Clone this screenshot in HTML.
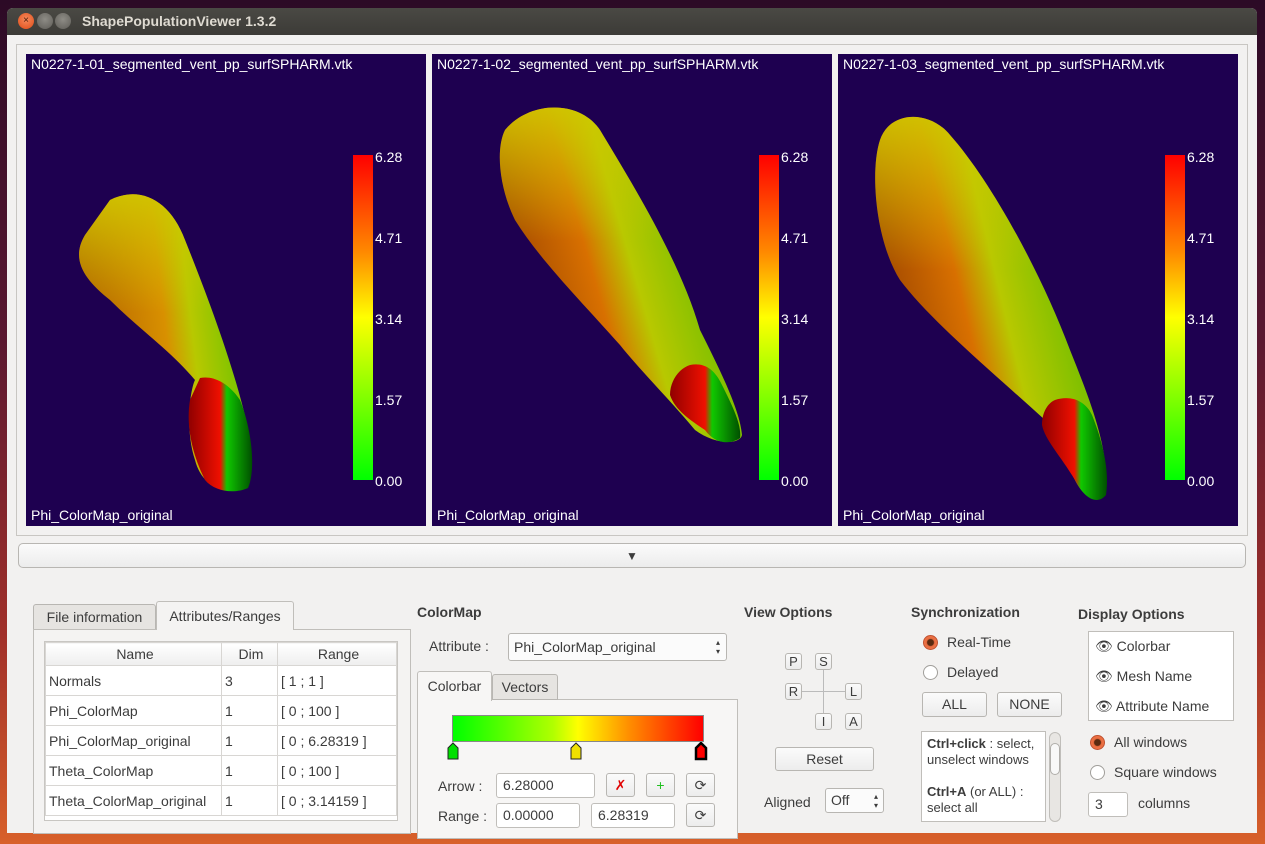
<!DOCTYPE html>
<html><head><meta charset="utf-8">
<style>
*{box-sizing:border-box;margin:0;padding:0}
body{width:1265px;height:844px;overflow:hidden;position:relative;font-family:"Liberation Sans","DejaVu Sans",sans-serif;font-size:14px;color:#3c3c3c;background:linear-gradient(180deg,#2c0a26 0%,#5a1830 40%,#a0302a 75%,#d8602a 100%)}
.a{position:absolute}
.win{left:7px;top:8px;width:1250px;height:825px;background:#f2f1f0;border-radius:6px 6px 0 0;overflow:hidden}
.title{left:0;top:0;width:1250px;height:27px;background:linear-gradient(#4a4944,#3c3b37)}
.title span{position:absolute;left:75px;top:5px;color:#dfdbd2;font-weight:bold;font-size:14px}
.btn{border-radius:50%;width:16px;height:16px;top:5px}
.panel{background:#1e0050;color:#fff;font-size:14px}
.cb{width:20px;height:325px;background:linear-gradient(#ff0000,#ff8a00 30%,#ffff00 50%,#80ff00 75%,#00ff00)}
.lbl{font-size:14px;color:#fff}
.tk{font-size:14px;color:#fff;line-height:81px;top:117px}
.qb{background:linear-gradient(#fbfbfb,#ececec);border:1px solid #b8b6b2;border-radius:3px;text-align:center;color:#3c3c3c}
.hd{font-weight:bold;font-size:14px;color:#3c3c3c}
table{border-collapse:collapse;font-size:14px}
td,th{border:1px solid #d8d6d3;height:30px;padding-left:3px;text-align:left;font-weight:normal}
th{height:23px;text-align:center;background:linear-gradient(#fff,#eee)}
.inp{background:#fff;border:1px solid #c0beba;border-radius:3px;padding:3px 6px}
.radio{width:15px;height:15px;border-radius:50%;border:1px solid #a09e9a;background:#fff}
.radio.on{background:radial-gradient(circle,#5a2a10 0 3px,#e86a3e 4px,#f08050 100%);border-color:#c05030}
</style></head><body>
<div class="a win">
 <div class="a title">
  <div class="a btn" style="left:11px;background:radial-gradient(circle at 50% 40%,#f58a5c,#df4a16);font-size:10px;color:#4a1a08;text-align:center;line-height:16px">×</div>
  <div class="a btn" style="left:30px;background:radial-gradient(circle at 50% 40%,#8e8c86,#5e5c57)"></div>
  <div class="a btn" style="left:48px;background:radial-gradient(circle at 50% 40%,#8e8c86,#5e5c57)"></div>
  <span>ShapePopulationViewer 1.3.2</span>
 </div>
 <div class="a" style="left:9px;top:36px;width:1232px;height:492px;border:1px solid #c8c6c2"></div>
</div>

<div class="a panel" style="left:26px;top:54px;width:400px;height:472px"></div>
<div class="a panel" style="left:432px;top:54px;width:400px;height:472px"></div>
<div class="a panel" style="left:838px;top:54px;width:400px;height:472px"></div>

<svg class="a" style="left:0;top:0" width="1265" height="844">
<defs>
 <linearGradient id="g1" x1="0" y1="0.3" x2="1" y2="0.1"><stop offset="0" stop-color="#b06000"/><stop offset="0.45" stop-color="#d89000"/><stop offset="0.6" stop-color="#b8c800"/><stop offset="1" stop-color="#50c000"/></linearGradient>
 <linearGradient id="g2" x1="0" y1="0.7" x2="1" y2="0.3"><stop offset="0" stop-color="#8a3800"/><stop offset="0.4" stop-color="#d87000"/><stop offset="0.55" stop-color="#b8c800"/><stop offset="1" stop-color="#48b800"/></linearGradient>
 <linearGradient id="top" x1="0" y1="0" x2="0" y2="1"><stop offset="0" stop-color="#d0c800" stop-opacity="0.9"/><stop offset="0.4" stop-color="#d0c800" stop-opacity="0"/></linearGradient>
 <linearGradient id="bl" x1="0" y1="0" x2="1" y2="0"><stop offset="0" stop-color="#900000"/><stop offset="0.5" stop-color="#f01000"/><stop offset="0.6" stop-color="#10c800"/><stop offset="1" stop-color="#005000"/></linearGradient>
</defs>
<path d="M110,200 C140,185 170,200 185,240 C205,290 232,360 246,420 C255,460 255,490 235,490 C215,492 200,480 195,460 C185,430 190,390 195,380 C170,350 140,330 110,300 C85,280 70,260 85,235 Z" fill="url(#g1)"/>
<path d="M110,200 C140,185 170,200 185,240 C205,290 232,360 246,420 C255,460 255,490 235,490 C215,492 200,480 195,460 C185,430 190,390 195,380 C170,350 140,330 110,300 C85,280 70,260 85,235 Z" fill="url(#top)"/>
<path d="M200,378 C215,375 230,385 240,400 C252,430 256,470 248,488 C235,494 215,492 205,480 C195,460 185,430 190,400 Z" fill="url(#bl)"/>
<path d="M505,130 C530,100 580,100 600,130 C630,180 680,260 700,330 C720,370 740,410 742,435 C740,445 715,445 695,430 C670,400 640,370 620,345 C580,300 540,260 515,220 C500,190 495,150 505,130 Z" fill="url(#g2)"/>
<path d="M505,130 C530,100 580,100 600,130 C630,180 680,260 700,330 C720,370 740,410 742,435 C740,445 715,445 695,430 C670,400 640,370 620,345 C580,300 540,260 515,220 C500,190 495,150 505,130 Z" fill="url(#top)"/>
<path d="M690,365 C705,362 715,370 722,385 C732,405 742,425 740,438 C730,445 715,444 705,430 C690,420 675,410 670,395 C670,380 680,368 690,365 Z" fill="url(#bl)"/>
<path d="M880,140 C890,110 930,110 950,135 C990,180 1040,270 1070,350 C1090,400 1110,450 1105,490 C1100,505 1085,500 1075,480 C1060,450 1050,440 1045,420 C990,370 930,320 900,280 C875,240 870,170 880,140 Z" fill="url(#g2)"/>
<path d="M880,140 C890,110 930,110 950,135 C990,180 1040,270 1070,350 C1090,400 1110,450 1105,490 C1100,505 1085,500 1075,480 C1060,450 1050,440 1045,420 C990,370 930,320 900,280 C875,240 870,170 880,140 Z" fill="url(#top)"/>
<path d="M1055,400 C1070,395 1085,400 1092,415 C1102,440 1110,470 1106,495 C1098,505 1085,500 1075,480 C1060,455 1045,440 1042,425 C1042,412 1048,403 1055,400 Z" fill="url(#bl)"/>
</svg>

<div class="a lbl" style="left:31px;top:56px">N0227-1-01_segmented_vent_pp_surfSPHARM.vtk</div>
<div class="a lbl" style="left:437px;top:56px">N0227-1-02_segmented_vent_pp_surfSPHARM.vtk</div>
<div class="a lbl" style="left:843px;top:56px">N0227-1-03_segmented_vent_pp_surfSPHARM.vtk</div>
<div class="a lbl" style="left:31px;top:507px">Phi_ColorMap_original</div>
<div class="a lbl" style="left:437px;top:507px">Phi_ColorMap_original</div>
<div class="a lbl" style="left:843px;top:507px">Phi_ColorMap_original</div>

<div class="a cb" style="left:353px;top:155px"></div>
<div class="a cb" style="left:759px;top:155px"></div>
<div class="a cb" style="left:1165px;top:155px"></div>
<div class="a tk" style="left:375px">6.28<br>4.71<br>3.14<br>1.57<br>0.00</div>
<div class="a tk" style="left:781px">6.28<br>4.71<br>3.14<br>1.57<br>0.00</div>
<div class="a tk" style="left:1187px">6.28<br>4.71<br>3.14<br>1.57<br>0.00</div>

<div class="a qb" style="left:18px;top:543px;width:1228px;height:25px;font-size:12px;line-height:24px;border-radius:5px">▼</div>

<div class="a qb" style="left:33px;top:604px;width:123px;height:26px;line-height:25px;border-bottom:none;border-radius:3px 3px 0 0;background:#e6e4e1">File information</div>
<div class="a" style="left:33px;top:629px;width:378px;height:205px;border:1px solid #c0beba;background:#f4f3f2"></div>
<div class="a" style="left:156px;top:601px;width:138px;height:29px;line-height:28px;text-align:center;border:1px solid #c0beba;border-bottom:none;border-radius:3px 3px 0 0;background:#f4f3f2">Attributes/Ranges</div>
<div class="a" style="left:44px;top:641px;width:354px;height:180px;background:#fff;border:1px solid #c8c6c2;overflow:hidden">
<table style="width:352px">
<tr><th style="width:176px">Name</th><th style="width:56px">Dim</th><th>Range</th></tr>
<tr><td>Normals</td><td>3</td><td>[ 1 ; 1 ]</td></tr>
<tr><td>Phi_ColorMap</td><td>1</td><td>[ 0 ; 100 ]</td></tr>
<tr><td>Phi_ColorMap_original</td><td>1</td><td>[ 0 ; 6.28319 ]</td></tr>
<tr><td>Theta_ColorMap</td><td>1</td><td>[ 0 ; 100 ]</td></tr>
<tr><td>Theta_ColorMap_original</td><td>1</td><td>[ 0 ; 3.14159 ]</td></tr>
</table></div>

<div class="a hd" style="left:417px;top:604px">ColorMap</div>
<div class="a" style="left:429px;top:638px">Attribute :</div>
<div class="a qb" style="left:508px;top:633px;width:219px;height:28px;text-align:left;padding:5px 5px;background:#fbfbfb">Phi_ColorMap_original<span style="position:absolute;right:6px;top:4px;font-size:8px;line-height:9px">▴<br>▾</span></div>
<div class="a" style="left:417px;top:699px;width:321px;height:140px;border:1px solid #c0beba;background:#f7f6f5"></div>
<div class="a qb" style="left:492px;top:674px;width:66px;height:26px;line-height:25px;border-radius:3px 3px 0 0;background:#e6e4e1">Vectors</div>
<div class="a" style="left:417px;top:671px;width:75px;height:30px;line-height:29px;text-align:center;border:1px solid #c0beba;border-bottom:none;border-radius:3px 3px 0 0;background:#f7f6f5">Colorbar</div>
<div class="a" style="left:452px;top:715px;width:252px;height:27px;border:1px solid #888;background:linear-gradient(90deg,#00ff00,#b0ff00 40%,#ffff00 50%,#ff9000 70%,#ff0000)"></div>
<svg class="a" style="left:445px;top:742px" width="265" height="20">
<path d="M3,6 L8,1 L13,6 L13,17 L3,17 Z" fill="#00e000" stroke="#222"/>
<path d="M126,6 L131,1 L136,6 L136,17 L126,17 Z" fill="#f0e000" stroke="#222"/>
<path d="M251,6 L256,1 L261,6 L261,17 L251,17 Z" fill="#ff0000" stroke="#000" stroke-width="2.5"/>
</svg>
<div class="a" style="left:438px;top:778px">Arrow :</div>
<div class="a inp" style="left:496px;top:773px;width:99px;height:25px">6.28000</div>
<div class="a qb" style="left:606px;top:773px;width:29px;height:24px;color:#e00000;line-height:22px">✗</div>
<div class="a qb" style="left:646px;top:773px;width:29px;height:24px;color:#20c020;line-height:22px">+</div>
<div class="a qb" style="left:686px;top:773px;width:29px;height:24px;line-height:22px">⟳</div>
<div class="a" style="left:438px;top:808px">Range :</div>
<div class="a inp" style="left:496px;top:803px;width:84px;height:25px">0.00000</div>
<div class="a inp" style="left:591px;top:803px;width:84px;height:25px">6.28319</div>
<div class="a qb" style="left:686px;top:803px;width:29px;height:24px;line-height:22px">⟳</div>

<div class="a hd" style="left:744px;top:604px">View Options</div>
<div class="a" style="left:823px;top:668px;width:1px;height:52px;background:#bbb"></div>
<div class="a" style="left:798px;top:691px;width:52px;height:1px;background:#bbb"></div>
<div class="a qb" style="left:785px;top:653px;width:17px;height:17px;font-size:13px;line-height:15px">P</div>
<div class="a qb" style="left:815px;top:653px;width:17px;height:17px;font-size:13px;line-height:15px">S</div>
<div class="a qb" style="left:785px;top:683px;width:17px;height:17px;font-size:13px;line-height:15px">R</div>
<div class="a qb" style="left:845px;top:683px;width:17px;height:17px;font-size:13px;line-height:15px">L</div>
<div class="a qb" style="left:815px;top:713px;width:17px;height:17px;font-size:13px;line-height:15px">I</div>
<div class="a qb" style="left:845px;top:713px;width:17px;height:17px;font-size:13px;line-height:15px">A</div>
<div class="a qb" style="left:775px;top:747px;width:99px;height:24px;line-height:22px">Reset</div>
<div class="a" style="left:764px;top:794px">Aligned</div>
<div class="a qb" style="left:825px;top:788px;width:59px;height:25px;text-align:left;padding:3px 5px;background:#fbfbfb">Off<span style="position:absolute;right:5px;top:3px;font-size:8px;line-height:9px">▴<br>▾</span></div>

<div class="a hd" style="left:911px;top:604px">Synchronization</div>
<div class="a radio on" style="left:923px;top:635px"></div><div class="a" style="left:947px;top:634px">Real-Time</div>
<div class="a radio" style="left:923px;top:665px"></div><div class="a" style="left:947px;top:664px">Delayed</div>
<div class="a qb" style="left:922px;top:692px;width:65px;height:25px;line-height:23px">ALL</div>
<div class="a qb" style="left:997px;top:692px;width:65px;height:25px;line-height:23px">NONE</div>
<div class="a" style="left:921px;top:731px;width:125px;height:91px;background:#fff;border:1px solid #c0beba;font-size:13px;padding:4px 5px;line-height:16px"><b>Ctrl+click</b> : select, unselect windows<br><br><b>Ctrl+A</b> (or ALL) : select all</div>
<div class="a" style="left:1049px;top:732px;width:12px;height:90px;border:1px solid #c0beba;border-radius:6px;background:#e8e6e3"><div style="margin:10px 0 0 0;height:32px;border:1px solid #b0aeaa;border-radius:5px;background:#f8f8f8"></div></div>

<div class="a hd" style="left:1078px;top:606px">Display Options</div>
<div class="a" style="left:1088px;top:631px;width:146px;height:90px;background:#fff;border:1px solid #c0beba"></div>
<div class="a" style="left:1095px;top:631px;line-height:30px">👁 Colorbar<br>👁 Mesh Name<br>👁 Attribute Name</div>
<div class="a radio on" style="left:1090px;top:735px"></div><div class="a" style="left:1114px;top:734px">All windows</div>
<div class="a radio" style="left:1090px;top:765px"></div><div class="a" style="left:1114px;top:764px">Square windows</div>
<div class="a inp" style="left:1088px;top:792px;width:40px;height:25px">3</div>
<div class="a" style="left:1138px;top:795px">columns</div>
</body></html>
